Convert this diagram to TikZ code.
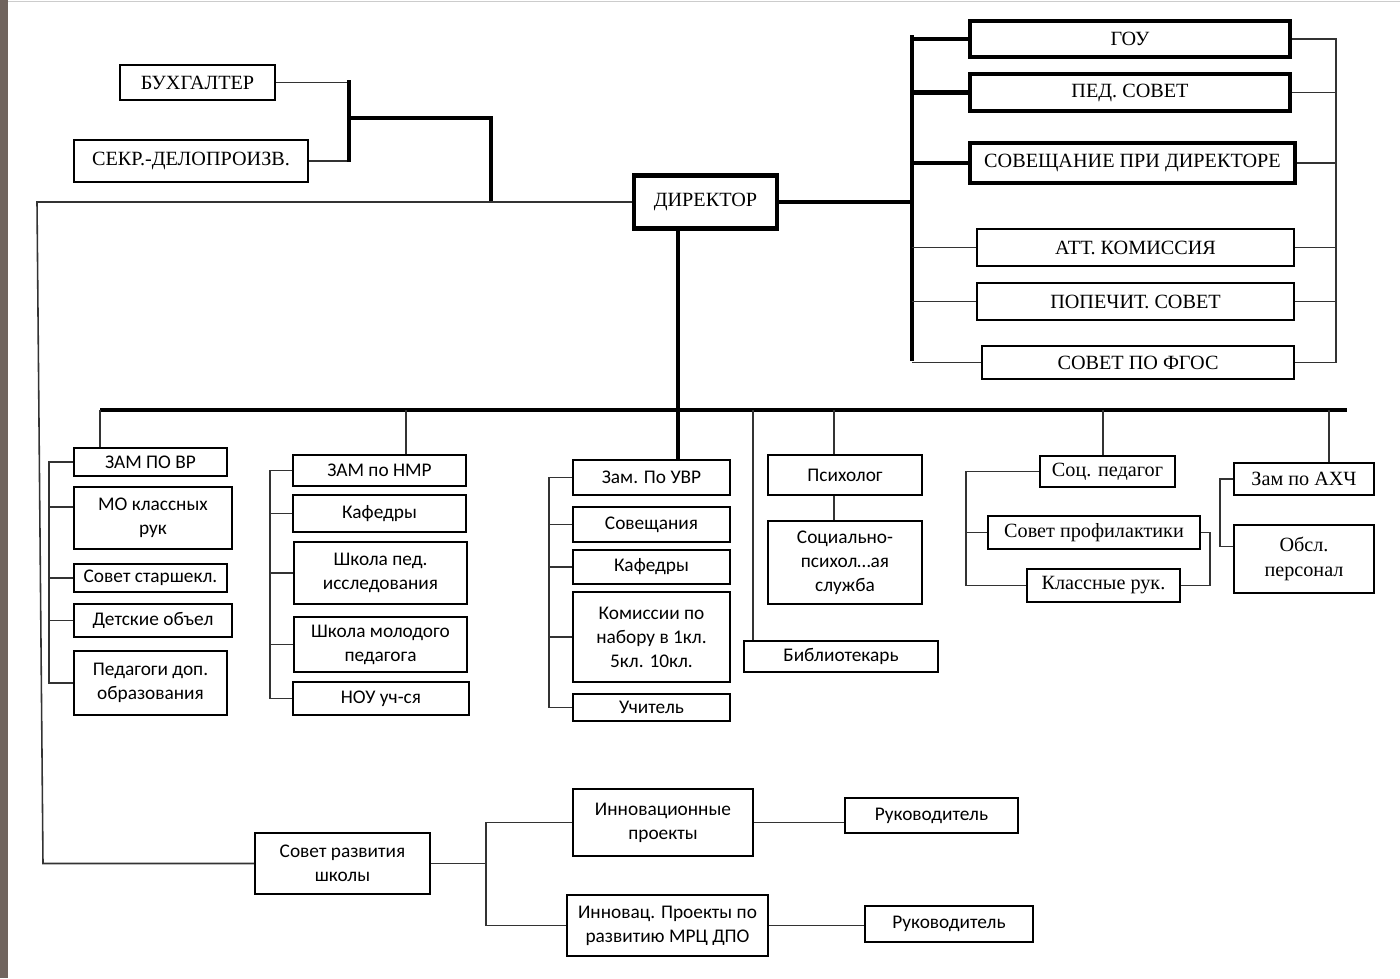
\documentclass[tikz,border=0pt]{standalone}
\usepackage{fontspec}
\setmainfont{Liberation Serif}
\newfontfamily\calib{Carlito}
\definecolor{edgegray}{RGB}{112,100,94}

\begin{document}
\begin{tikzpicture}[x=0.02cm,y=-0.02cm,
  box/.style={draw=black,line width=1.1pt,inner sep=0pt,align=center,font=\fontsize{11.5}{14}\selectfont},
  bbox/.style={box,line width=2.4pt},
  sbox/.style={box,font=\calib\fontsize{11}{13.6}\selectfont},
  sz/.style 2 args={minimum width=#1*0.02cm,minimum height=#2*0.02cm},
  conn/.style={draw=black!80,line width=0.9pt},
  bus/.style={draw=black,line width=2.8pt}]

\useasboundingbox (0,0) rectangle (1400,978);
\fill[edgegray] (0,0) rectangle (8,978);
\draw[black!20] (8,1) -- (1400,1);

\node[box]  (buh)   [sz={155}{35}] at (197.5,82.5) {БУХГАЛТЕР};
\node[box]  (sekr)  [sz={234}{42}] at (191,161)    {СЕКР.-ДЕЛОПРОИЗВ.};
\node[bbox] (dir)   [sz={143}{53}] at (705.5,202)  {ДИРЕКТОР};

\node[bbox] (gou)    [sz={320}{36}] at (1130,39)     {ГОУ};
\node[bbox] (ped)    [sz={320}{37}] at (1130,92.5)   {ПЕД. СОВЕТ};
\node[bbox] (sovdir) [sz={325}{40}] at (1132.5,163)  {СОВЕЩАНИЕ ПРИ ДИРЕКТОРЕ};
\node[box]  (att)    [sz={317}{37}] at (1135.5,247.5) {АТТ. КОМИССИЯ};
\node[box]  (pop)    [sz={317}{37}] at (1135.5,301.5) {ПОПЕЧИТ. СОВЕТ};
\node[box]  (fgos)   [sz={312}{33}] at (1138,362.5)  {СОВЕТ ПО ФГОС};

\node[sbox] (zamvr)  [sz={153}{28}] at (150.5,462)  {ЗАМ ПО ВР};
\node[sbox] (mo)     [sz={158}{62}] at (153,518)    {МО классных\\рук};
\node[sbox] (starsh) [sz={153}{28}] at (150.5,578)  {Совет старшекл.};
\node[sbox] (det)    [sz={158}{33}] at (153,620.5)  {Детские объел};
\node[sbox] (dop)    [sz={153}{64}] at (150.5,683)  {Педагоги доп.\\образования};

\node[sbox] (nmr)    [sz={173}{31}] at (379.5,470.5) {ЗАМ по НМР};
\node[sbox] (kaf1)   [sz={173}{37}] at (379.5,513.5) {Кафедры};
\node[sbox] (shped)  [sz={173}{62}] at (380.5,573)   {Школа пед.\\исследования};
\node[sbox] (shmol)  [sz={173}{55}] at (380.5,644.5) {Школа молодого\\педагога};
\node[sbox] (nou)    [sz={176}{33}] at (381,698.5)   {НОУ уч-ся};

\node[sbox] (uvr)    [sz={157}{35}] at (651.5,477.5) {Зам. По УВР};
\node[sbox] (sov)    [sz={157}{35}] at (651.5,524.5) {Совещания};
\node[sbox] (kaf2)   [sz={157}{34}] at (651.5,567)   {Кафедры};
\node[sbox] (kom)    [sz={157}{90}] at (651.5,637)   {Комиссии по\\набору в 1кл.\\5кл. 10кл.};
\node[sbox] (uch)    [sz={157}{27}] at (651.5,707.5) {Учитель};

\node[sbox] (bib)    [sz={194}{31}] at (841,656.5)   {Библиотекарь};
\node[sbox] (psy)    [sz={154}{40}] at (845,475)     {Психолог};
\node[sbox] (spsy)   [sz={154}{83}] at (845,562.5)   {Социально-\\психол…ая\\служба};

\node[box]  (socped) [sz={135}{31}] at (1107.5,471.5) {Соц. педагог};
\node[box]  (profil) [sz={212}{33}] at (1094,532.5)   {Совет профилактики};
\node[box]  (klruk)  [sz={153}{33}] at (1103.5,585.5) {Классные рук.};

\node[box]  (ahch)   [sz={140}{32}] at (1304,479)     {Зам по АХЧ};
\node[box]  (obsl)   [sz={140}{68}] at (1304,559)     {Обсл.\\персонал};

\node[sbox] (sovraz) [sz={175}{61}] at (342.5,863.5) {Совет развития\\школы};
\node[sbox] (innov)  [sz={180}{67}] at (663,822.5)   {Инновационные\\проекты};
\node[sbox] (ruk1)   [sz={173}{35}] at (931.5,815.5) {Руководитель};
\node[sbox] (innov2) [sz={201}{61}] at (667.5,925.5) {Инновац. Проекты по\\развитию МРЦ ДПО};
\node[sbox] (ruk2)   [sz={168}{36}] at (949,924)     {Руководитель};

\coordinate (bka) at (349,80);
\coordinate (bkb) at (349,162);
\coordinate (bkc) at (349,118);
\coordinate (bkd) at (491,118);
\coordinate (lt)  at (37,202);
\coordinate (lb)  at (43,863.5);
\coordinate (rt)  at (912,35);
\coordinate (rbt) at (912,361);
\coordinate (rr)  at (1336,43);

\draw[conn] (buh.east) -- (buh.east -| bka);
\draw[conn] (sekr.east) -- (sekr.east -| bka);
\draw[bus] (bka) -- (bkb);
\draw[bus] (bkc) -- (bkd) -- (bkd |- dir.west);
\draw[conn] (dir.west) -- (lt) -- (lb) -- (sovraz.west);

\draw[bus] (dir.east) -- (dir.east -| rt);
\draw[bus] (rt) -- (rbt);
\draw[bus] (gou.west) -- (gou.west -| rt);
\draw[bus] (ped.west) -- (ped.west -| rt);
\draw[bus] (sovdir.west) -- (sovdir.west -| rt);
\draw[conn] (att.west) -- (att.west -| rt);
\draw[conn] (pop.west) -- (pop.west -| rt);
\draw[conn] (fgos.west) -- (fgos.west -| rt);

\draw[conn] (gou.east) -- (gou.east -| rr) -- (rr |- fgos.east) -- (fgos.east);
\draw[conn] (ped.east) -- (ped.east -| rr);
\draw[conn] (sovdir.east) -- (sovdir.east -| rr);
\draw[conn] (att.east) -- (att.east -| rr);
\draw[conn] (pop.east) -- (pop.east -| rr);

\coordinate (t1) at (100,410);
\coordinate (t2) at (406,410);
\coordinate (t3) at (678,410);
\coordinate (t4) at (753,410);
\coordinate (t5) at (834,410);
\coordinate (t6) at (1103,410);
\coordinate (t7) at (1329,410);
\coordinate (tr) at (1347,410);

\draw[bus] (t1) -- (tr);
\draw[bus] (t3 |- dir.south) -- (t3 |- uvr.north);
\draw[conn] (t1) -- (t1 |- zamvr.north);
\draw[conn] (t2) -- (t2 |- nmr.north);
\draw[conn] (t4) -- (t4 |- bib.north);
\draw[conn] (t5) -- (t5 |- psy.north);
\draw[conn] (t5 |- psy.south) -- (t5 |- spsy.north);
\draw[conn] (t6) -- (t6 |- socped.north);
\draw[conn] (t7) -- (t7 |- ahch.north);

\coordinate (vrx)  at (49,0);
\coordinate (nmrx) at (270,0);
\coordinate (uvrx) at (549,0);
\coordinate (spx)  at (966,0);
\coordinate (spx2) at (1210,0);
\coordinate (ahx)  at (1220,0);
\coordinate (brx)  at (486,0);

\draw[conn] (zamvr.west) -- (zamvr.west -| vrx) -- (vrx |- dop.west) -- (dop.west);
\draw[conn] (mo.172) -- (mo.172 -| vrx);
\draw[conn] (starsh.west) -- (starsh.west -| vrx);
\draw[conn] (det.west) -- (det.west -| vrx);

\draw[conn] (nmr.west) -- (nmr.west -| nmrx) -- (nmrx |- nou.west) -- (nou.west);
\draw[conn] (kaf1.west) -- (kaf1.west -| nmrx);
\draw[conn] (shped.west) -- (shped.west -| nmrx);
\draw[conn] (shmol.west) -- (shmol.west -| nmrx);

\draw[conn] (uvr.west) -- (uvr.west -| uvrx) -- (uvrx |- uch.west) -- (uch.west);
\draw[conn] (sov.west) -- (sov.west -| uvrx);
\draw[conn] (kaf2.west) -- (kaf2.west -| uvrx);
\draw[conn] (kom.west) -- (kom.west -| uvrx);

\draw[conn] (socped.west) -- (socped.west -| spx) -- (spx |- klruk.west) -- (klruk.west);
\draw[conn] (profil.west) -- (profil.west -| spx);
\draw[conn] (profil.east) -- (profil.east -| spx2) -- (spx2 |- klruk.east) -- (klruk.east);

\draw[conn] (ahch.west) -- (ahch.west -| ahx) -- (ahx |- obsl.170) -- (obsl.170);

\draw[conn] (sovraz.east) -- (sovraz.east -| brx);
\draw[conn] (innov.west) -- (innov.west -| brx) -- (brx |- innov2.west) -- (innov2.west);
\draw[conn] (innov.east) -- (innov.east -| ruk1.west);
\draw[conn] (innov2.east) -- (innov2.east -| ruk2.west);

\end{tikzpicture}
\end{document}
